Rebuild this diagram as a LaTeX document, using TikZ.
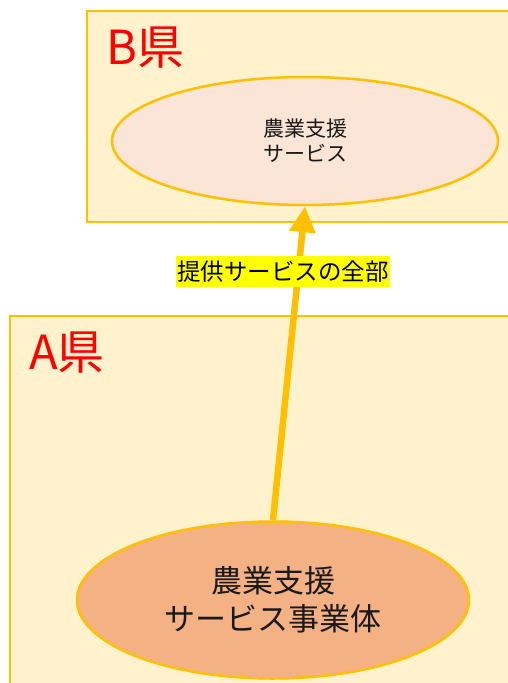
\documentclass[tikz,border=0pt]{standalone}
\usepackage{fontspec}
\setmainfont{Noto Sans CJK JP}
\usetikzlibrary{shapes.geometric,arrows.meta}
\definecolor{amber}{HTML}{FFC000}
\definecolor{boxfill}{HTML}{FFF2CC}
\definecolor{ellA}{HTML}{F4B183}
\definecolor{ellB}{HTML}{FBE5D6}
\definecolor{lblbg}{HTML}{FFFF00}
\tikzset{
  region/.style={draw=amber,line width=2.5pt,fill=boxfill},
  title/.style={text=red,font=\fontsize{47}{52}\selectfont,inner sep=0pt,anchor=base west},
  svc/.style={ellipse,draw=amber,line width=2.5pt,inner sep=0pt,align=center,text=black!90},
  flow/.style={draw=amber,line width=6.5pt,-{Triangle[length=26pt,width=25pt]}},
  lbl/.style={fill=lblbg,inner xsep=1pt,inner ysep=0pt,minimum height=31pt,font=\fontsize{23.5}{28}\selectfont}
}
\begin{document}
\begin{tikzpicture}[x=1pt,y=-1pt]
\useasboundingbox (0,0) rectangle (508,683);
\clip (0,0) rectangle (508,683);
\fill[white] (0,0) rectangle (508,683);
\draw[region] (87,11) rectangle (530,222);
\draw[region] (10,316) rectangle (530,700);
\node[title] (tB) at (106,64) {B県};
\node[title] (tA) at (29,369) {A県};
\node[svc,fill=ellB,minimum width=386pt,minimum height=128pt,font=\fontsize{21}{25}\selectfont] (b) at (305,141) {農業支援\\サービス};
\node[svc,fill=ellA,minimum width=392pt,minimum height=157pt,font=\fontsize{31}{38}\selectfont] (a) at (273,600) {農業支援\\サービス事業体};
\draw[flow] (a.north) -- (b.south);
\node[lbl] (l) at (283,271.5) {提供サービスの全部};
\end{tikzpicture}
\end{document}
